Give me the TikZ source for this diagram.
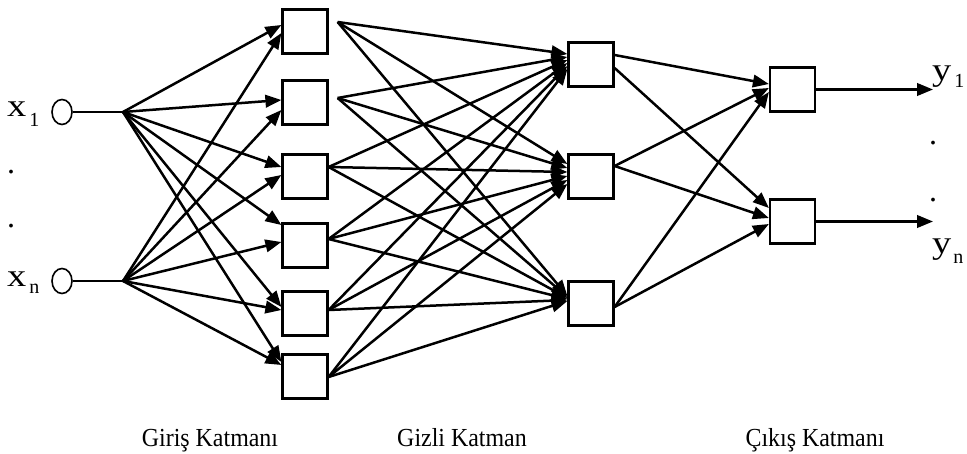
\documentclass[tikz,border=0pt]{standalone}
\usepackage{fontspec}
\setmainfont{Liberation Serif}
\usetikzlibrary{arrows.meta,shapes.geometric,calc}

% font sizes (1pt = one unit of the drawing)
\newcommand\symsize{\fontsize{32}{32}\selectfont}
\newcommand\subsize{\fontsize{20}{20}\selectfont}
\newcommand\capsize{\fontsize{26}{26}\selectfont}

\begin{document}
\begin{tikzpicture}[x=1pt,y=-1pt,
  neuron/.style={draw,line width=2.2pt,rectangle,minimum width=45pt,minimum height=44pt,inner sep=0pt},
  inp/.style={draw,line width=1.6pt,ellipse,minimum width=20pt,minimum height=25pt,inner sep=0pt},
  wire/.style={line width=2.5pt,-{Triangle[length=16pt,width=12.5pt]}},
  plain/.style={line width=2.2pt},
  lbl/.style={inner sep=0pt,anchor=base west},
  caption/.style={inner sep=0pt,anchor=base,font=\capsize},
  dotmark/.style={inner sep=0pt,anchor=base,font=\symsize}
]
\useasboundingbox (0,0) rectangle (967,454);

% input terminals
\node[inp] (c1) at (62,112) {};
\node[inp] (cn) at (62,281) {};
\coordinate (f1) at (123,112);
\coordinate (fn) at (123,281);
\draw[plain] (c1) -- (f1);
\draw[plain] (cn) -- (fn);

\node[lbl] (lx1) at (7,117) {\symsize\scalebox{1.2}[1]{x}\hspace{3pt}\raisebox{-10pt}{\subsize 1}};
\node[lbl] (lxn) at (7,287) {\symsize\scalebox{1.2}[1]{x}\hspace{3pt}\raisebox{-7pt}{\subsize n}};
\node[dotmark] (d1) at (11,174) {.};
\node[dotmark] (d2) at (11,228) {.};

% first layer
\node[neuron] (a1) at (305,31.5) {};
\node[neuron] (a2) at (305,102.5) {};
\node[neuron] (a3) at (305,176.5) {};
\node[neuron] (a4) at (305,245.5) {};
\node[neuron] (a5) at (305,313.5) {};
\node[neuron] (a6) at (305,376.5) {};

% hidden layer
\node[neuron] (h1) at (591,64.5) {};
\node[neuron] (h2) at (591,176.5) {};
\node[neuron] (h3) at (591,303.5) {};

% output layer
\node[neuron] (o1) at (792.5,89.5) {};
\node[neuron] (o2) at (792.5,221.5) {};

% inputs to first layer
\foreach \i/\dy in {1/-6.5,2/-2.5,3/-9.5,4/-20.5,5/-6.5,6/-14.5}
  \draw[wire] (f1) -- ($(a\i.west)+(0,\dy)$);
\foreach \i/\dy in {1/1.5,2/7.5,3/-1.5,4/-3.5,5/-3.5,6/-11.5}
  \draw[wire] (fn) -- ($(a\i.west)+(0,\dy)$);

% first layer to hidden layer
\foreach \i/\sx/\sy in {1/9/-9.5,2/9/-4.5,3/0/-9.5,4/0/-6.5,5/0/-3.5,6/0/0.5}
  \coordinate (s\i) at ($(a\i.east)+(\sx,\sy)$);
\foreach \i in {1,...,6} {
  \draw[wire] (s\i) -- ($(h1.west)+(0,{-10.5+3*(\i-1)})$);
  \draw[wire] (s\i) -- ($(h2.west)+(0,{-12.5+4*(\i-1)})$);
  \draw[wire] (s\i) -- ($(h3.west)+(0,{-7.5+(\i-1)})$);
}

% hidden layer to output layer
\coordinate (t1a) at ($(h1.east)+(0,-9.5)$);
\coordinate (t1b) at ($(h1.east)+(0,3.5)$);
\coordinate (t2) at ($(h2.east)+(0,-10.5)$);
\coordinate (t3) at ($(h3.east)+(0,3.5)$);
\draw[wire] (t1a) -- ($(o1.west)+(0,-5.5)$);
\draw[wire] (t1b) -- ($(o2.west)+(0,-13.5)$);
\draw[wire] (t2) -- ($(o1.west)+(0,-1.5)$);
\draw[wire] (t2) -- ($(o2.west)+(0,-3.5)$);
\draw[wire] (t3) -- ($(o1.west)+(0,2.5)$);
\draw[wire] (t3) -- ($(o2.west)+(0,2.5)$);

% outputs
\coordinate (e1) at (933,89.5);
\coordinate (en) at (933,221.5);
\draw[wire] (o1.east) -- (e1);
\draw[wire] (o2.east) -- (en);

\node[lbl] (ly1) at (932,81) {\symsize\scalebox{1.2}[1]{y}\hspace{3pt}\raisebox{-7pt}{\subsize 1}};
\node[lbl] (lyn) at (932,254) {\symsize\scalebox{1.2}[1]{y}\hspace{2pt}\raisebox{-10pt}{\subsize n}};
\node[dotmark] (d3) at (933,145) {.};
\node[dotmark] (d4) at (933,202) {.};

% layer captions
\node[caption] (g1) at (210,446) {\scalebox{0.92}[1]{Giriş Katmanı}};
\node[caption] (g2) at (462,446) {\scalebox{0.92}[1]{Gizli Katman}};
\node[caption] (g3) at (815,446) {\scalebox{0.92}[1]{Çıkış Katmanı}};
\end{tikzpicture}
\end{document}
